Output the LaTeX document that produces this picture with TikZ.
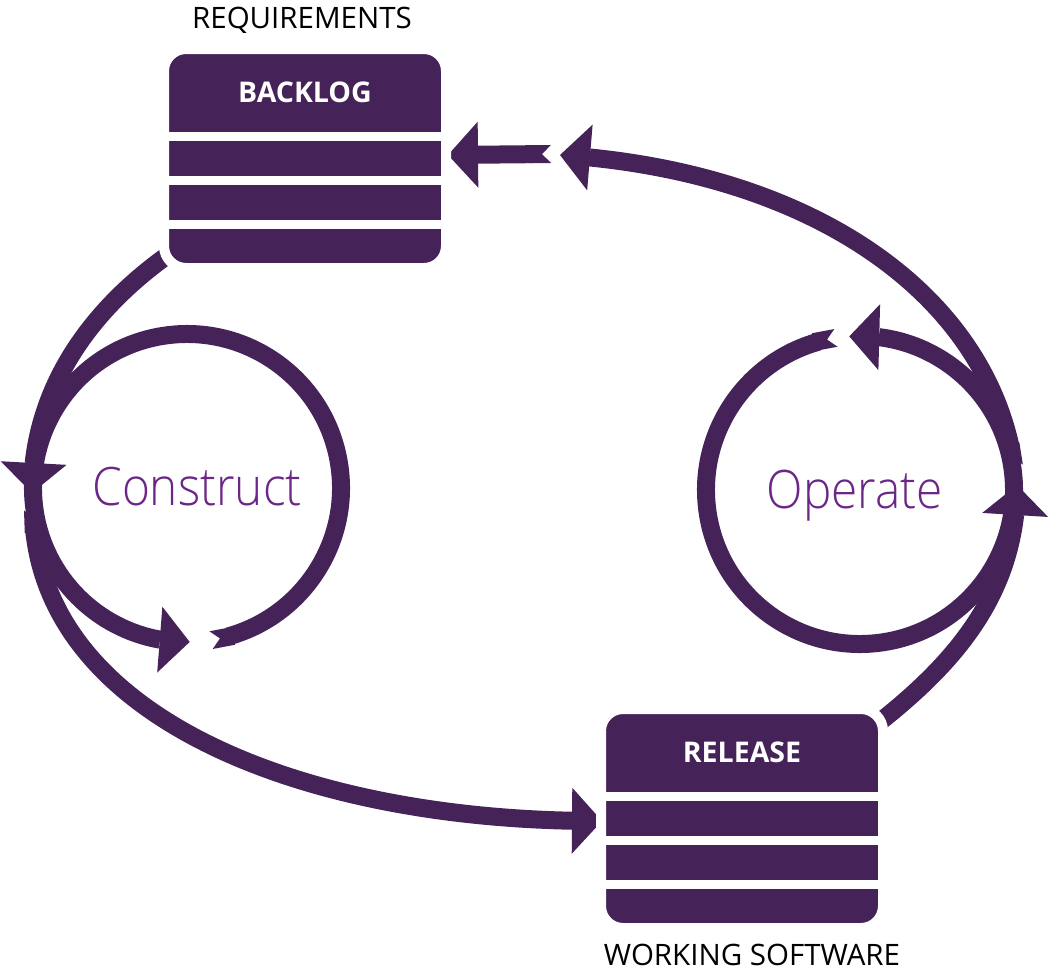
\documentclass[tikz,border=0pt]{standalone}
\usepackage{fontspec}
\setmainfont{Open Sans}
\IfFontExistsTF{Open Sans Light}{\newfontfamily\lightfont{Open Sans Light}}{\IfFontExistsTF{Fira Sans Light}{\newfontfamily\lightfont{Fira Sans Light}}{\newfontfamily\lightfont{Open Sans}}}
\usetikzlibrary{arrows.meta,bending,calc}
\definecolor{pur}{RGB}{69,35,89}
\definecolor{txtpur}{RGB}{107,38,135}
\tikzset{
  flow/.style={draw=pur, line width=18pt, {Triangle Cap[reversed]}-{Triangle[length=30pt,width=66pt,line width=0pt]}},
  plainflow/.style={draw=pur, line width=18pt, -{Triangle[length=30pt,width=66pt,line width=0pt]}},
  box/.style={rectangle, rounded corners=22pt, fill=pur, draw=white, line width=10pt, minimum width=282pt, minimum height=219pt, inner sep=0pt},
  gap/.style={fill=white},
  boxtitle/.style={text=white, font=\fontsize{28.5}{32}\selectfont\bfseries, anchor=base, inner sep=0pt},
  caption/.style={text=black, font=\fontsize{29.5}{34}\selectfont, anchor=base, inner sep=0pt},
  phase/.style={text=txtpur, font=\lightfont\fontsize{53}{60}\selectfont, anchor=base, inner sep=0pt, xscale=0.9}
}
\begin{document}
\begin{tikzpicture}[x=1pt,y=1pt]
\useasboundingbox (0,0) rectangle (1053,-972);
% inner cycles
\coordinate (cc) at (187,-488);
\coordinate (oc) at (860,-490);
\draw[flow] ([shift={(-81:154)}]cc) arc[start angle=-81, end angle=271, radius=154];
\draw[flow] ([shift={(99:154)}]oc) arc[start angle=99, end angle=454, radius=154];
% outer cycle
\coordinate (a0) at (175,-250);
\coordinate (a1) at (32,-493);
\coordinate (b0) at (33,-510);
\coordinate (b1) at (602,-821);
\coordinate (c0) at (872,-728);
\coordinate (c1) at (1017,-485);
\coordinate (d0) at (1014,-466);
\coordinate (d1) at (560,-155);
\coordinate (e0) at (551,-154);
\coordinate (e1) at (448,-155);
\draw[plainflow] (a0) .. controls (95,-305) and (32,-385) .. (a1);
\draw[flow] (b0) .. controls (36,-715) and (300,-822) .. (b1);
\draw[plainflow] (c0) .. controls (960,-660) and (1016,-590) .. (c1);
\draw[flow] (d0) .. controls (990,-300) and (820,-172) .. (d1);
\draw[flow] (e0) -- (e1);
% boxes
\node[box] (backlog) at (305,-158.5) {};
\node[box] (release) at (742,-818.5) {};
\fill[gap] (160,-132) rectangle (450,-141);
\fill[gap] (160,-176) rectangle (450,-185);
\fill[gap] (160,-220) rectangle (450,-229);
\fill[gap] (597,-792) rectangle (887,-801);
\fill[gap] (597,-836) rectangle (887,-845);
\fill[gap] (597,-880) rectangle (887,-889);
\node[boxtitle] (backlogt) at (305,-102) {BACKLOG};
\node[boxtitle] (releaset) at (742,-762) {RELEASE};
\node[caption] (req) at (302,-28) {REQUIREMENTS};
\node[caption] (ws) at (752,-965) {WORKING SOFTWARE};
\node[phase] (construct) at (197,-505) {Construct};
\node[phase] (operate) at (855,-508) {Operate};
\end{tikzpicture}
\end{document}
